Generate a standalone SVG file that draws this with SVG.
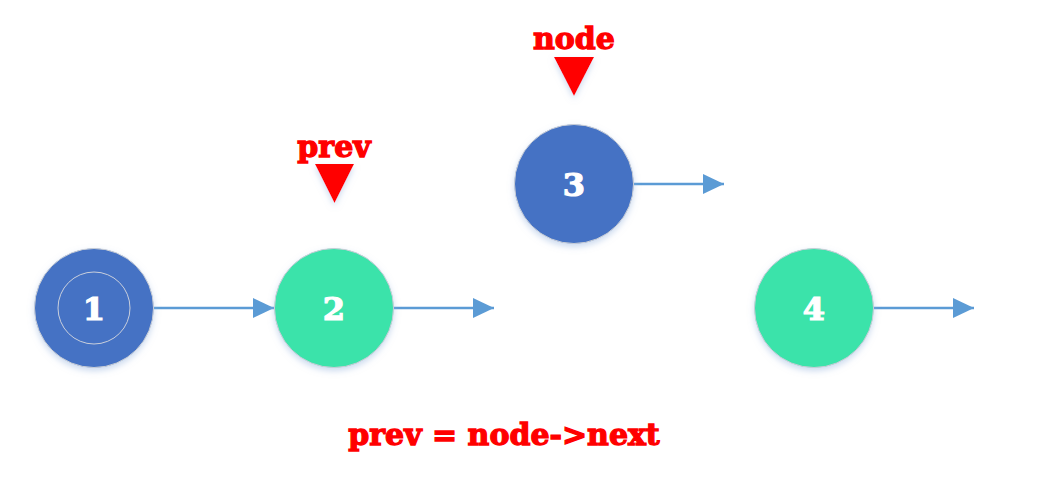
<svg xmlns="http://www.w3.org/2000/svg" width="1053" height="477" viewBox="0 0 1053 477">
<style>
.blue{fill:#4472C4;stroke:#c8cdd6;stroke-width:1}
.green{fill:#3BE3AA;stroke:#c8cdd6;stroke-width:1}
.num{font-family:"DejaVu Serif","Liberation Serif",serif;font-weight:bold;font-size:32px;fill:#ffffff;stroke:#ffffff;stroke-width:1.2;text-anchor:middle}
.lbl{font-family:"DejaVu Serif","Liberation Serif",serif;font-weight:bold;font-size:30px;fill:#ff0000;stroke:#ff0000;stroke-width:1.3;text-anchor:middle}
.edge{stroke:#5B9BD5;stroke-width:2.5;fill:none}
.ptr{fill:#ff0000}
</style>
<defs>
<filter id="sh" x="-30%" y="-30%" width="160%" height="160%">
<feDropShadow dx="0" dy="3" stdDeviation="3" flood-color="#9ab6e0" flood-opacity="0.5"/>
</filter>
<marker id="arr" markerWidth="21" markerHeight="20" refX="21" refY="10" orient="auto" markerUnits="userSpaceOnUse">
<path d="M0,0 L21,10 L0,20 Z" fill="#5B9BD5"/>
</marker>
</defs>
<rect width="1053" height="477" fill="#ffffff"/>
<g id="connectors">
<line class="edge" x1="153" y1="308" x2="274" y2="308" marker-end="url(#arr)"/>
<line class="edge" x1="393" y1="308" x2="494" y2="308" marker-end="url(#arr)"/>
<line class="edge" x1="633" y1="184" x2="724" y2="184" marker-end="url(#arr)"/>
<line class="edge" x1="873" y1="308" x2="974" y2="308" marker-end="url(#arr)"/>
</g>
<g id="node1">
<circle class="blue" cx="94" cy="308" r="59.5" filter="url(#sh)"/>
<circle cx="94" cy="308" r="36" fill="none" stroke="#c9cfdc" stroke-width="1"/>
<text class="num" x="94" y="320">1</text>
</g>
<g id="node2">
<circle class="green" cx="334" cy="308" r="59.5" filter="url(#sh)"/>
<text class="num" x="334" y="320">2</text>
</g>
<g id="node3">
<circle class="blue" cx="574" cy="184" r="59.5" filter="url(#sh)"/>
<text class="num" x="574" y="196">3</text>
</g>
<g id="node4">
<circle class="green" cx="814" cy="308" r="59.5" filter="url(#sh)"/>
<text class="num" x="814" y="320">4</text>
</g>
<g id="ptr-prev">
<text class="lbl" x="334" y="157">prev</text>
<polygon class="ptr" points="315,164 354,164 334.5,203" filter="url(#sh)"/>
</g>
<g id="ptr-node">
<text class="lbl" x="574" y="49">node</text>
<polygon class="ptr" points="554,57 594,57 574,96" filter="url(#sh)"/>
</g>
<g id="caption">
<text class="lbl" x="504" y="445" font-size="30">prev = node-&gt;next</text>
</g>
</svg>
